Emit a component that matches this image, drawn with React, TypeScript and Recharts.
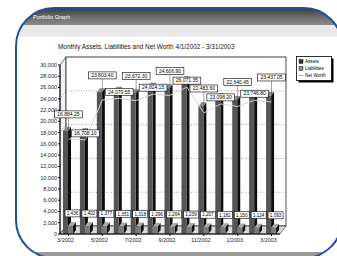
import React from "react";
import { ComposedChart, Bar, Line, XAxis, YAxis, CartesianGrid, LabelList, Legend } from "recharts";

// Monthly assets / liabilities / net worth, month-end values
const months = ["3/2002", "4/2002", "5/2002", "6/2002", "7/2002", "8/2002", "9/2002", "10/2002", "11/2002", "12/2002", "1/2003", "2/2003", "3/2003"];
const assets = [18320, 18110, 25180, 25430, 24990, 26120, 25870, 27310, 22690, 24280, 23790, 24870, 24530];
const liabilities = [1436, 1402, 1377, 1351, 1318, 1296, 1264, 1239, 1207, 1182, 1150, 1124, 1093];
const netWorth = [16884.25, 16708.1, 23803.4, 24079.55, 23672.3, 24824.15, 24606.9, 26071.35, 21483.6, 23098.2, 22640.45, 23746.8, 23437.05];
const yTicks = [0, 2000, 4000, 6000, 8000, 10000, 12000, 14000, 16000, 18000, 20000, 22000, 24000, 26000, 28000, 30000];
const gridValues = [0, 6000, 12000, 18000, 24000, 30000];
const Y_MAX = 30000;

const data = months.map((m, i) => ({ month: m, assets: assets[i], liabilities: liabilities[i], netWorth: netWorth[i] }));

const FONT = "Arial, 'Liberation Sans', sans-serif";
const DX = 6; // depth of back wall
const DY = 8;

const fmt = (v: number) => v.toLocaleString("en-US");
const fmt2 = (v: number) => v.toLocaleString("en-US", { minimumFractionDigits: 2, maximumFractionDigits: 2 });

// 3D column: front, side, top
const bar3d = (front: string, side: string, top: string) => (props: any) => {
  const { x, y, width, height } = props;
  if (height == null || isNaN(height)) return <g />;
  const d = 3;
  const e = 4;
  return (
    <g>
      <path d={`M${x + width},${y} l${d},${-e} v${height} l${-d},${e} z`} fill={side} />
      <path d={`M${x},${y} l${d},${-e} h${width} l${-d},${e} z`} fill={top} />
      <rect x={x} y={y} width={width} height={height} fill={front} />
    </g>
  );
};

const gridLine = (props: any) => {
  const { x1, y1, x2, y2 } = props;
  return (
    <polyline
      key={`h-${y1}`}
      points={`${x1},${y1} ${x1 + DX},${y1 - DY} ${x2 + DX},${y2 - DY}`}
      fill="none"
      stroke="#666"
      strokeWidth={0.6}
      strokeDasharray="1 1.5"
    />
  );
};

// linear value axis: back-wall gridlines every 6,000
const gridCoords = ({ offset }: any) => gridValues.map((v) => offset.top + offset.height * (1 - v / Y_MAX));

const topLabel = (props: any) => {
  const { x, y, value, index } = props;
  const t = fmt2(value);
  const w = t.length * 2.75 + 3;
  const by = y - (index % 2 === 0 ? 28 : 10);
  return (
    <g>
      <line x1={x} y1={y} x2={x} y2={by + 7} stroke="#444" strokeWidth={0.5} />
      <rect x={x - w / 2} y={by} width={w} height={7} fill="#fff" stroke="#000" strokeWidth={0.6} />
      <text x={x} y={by + 5.2} textAnchor="middle" fontSize={5} fontFamily={FONT} fill="#000">{t}</text>
    </g>
  );
};

const lowLabel = (props: any) => {
  const { x, y, width, value } = props;
  const t = fmt(value);
  const w = t.length * 2.6 + 2;
  const cx = x + width / 2 + 2;
  const by = y - 16;
  return (
    <g>
      <rect x={cx - w / 2} y={by} width={w} height={7} fill="#fff" stroke="#000" strokeWidth={0.6} />
      <text x={cx} y={by + 5.2} textAnchor="middle" fontSize={4.6} fontFamily={FONT} fill="#000">{t}</text>
    </g>
  );
};

const LegendBox = () => (
  <svg width={40} height={28} style={{ display: "block" }}>
    <rect x={2.5} y={2.5} width={35} height={24} fill="#000" />
    <rect x={0.5} y={0.5} width={35} height={24} fill="#fff" stroke="#000" strokeWidth={0.8} />
    <rect x={3} y={3.5} width={4} height={4} fill="#333" stroke="#000" strokeWidth={0.4} />
    <text x={9} y={7.2} fontSize={4.6} fontFamily={FONT} fill="#000">Assets</text>
    <rect x={3} y={10.5} width={4} height={4} fill="#888" stroke="#000" strokeWidth={0.4} />
    <text x={9} y={14.2} fontSize={4.6} fontFamily={FONT} fill="#000">Liabilities</text>
    <line x1={2.5} y1={19.5} x2={7.5} y2={19.5} stroke="#999" strokeWidth={0.8} />
    <text x={9} y={21.2} fontSize={4.6} fontFamily={FONT} fill="#000">Net Worth</text>
  </svg>
);

export default function App() {
  return (
    <div style={{ position: "absolute", left: 0, top: 0, width: 337, height: 256, background: "#fff", overflow: "hidden" }}>
      <svg width={337} height={256} style={{ position: "absolute", left: 0, top: 0 }}>
        <defs>
          <clipPath id="frame">
            <rect x={16} y={8} width={326} height={250} rx={38} ry={38} />
          </clipPath>
          <linearGradient id="bar" x1="0" y1="0" x2="0" y2="1">
            <stop offset="0%" stopColor="#3c3c3c" />
            <stop offset="50%" stopColor="#6a6a6a" />
            <stop offset="100%" stopColor="#8a8a8a" />
          </linearGradient>
        </defs>
        <g clipPath="url(#frame)">
          <rect x={0} y={8} width={337} height={17} fill="url(#bar)" />
          <rect x={0} y={25} width={337} height={12} fill="#e9e9e9" />
          <rect x={0} y={252} width={337} height={6} fill="#9a9a9a" />
          <text x={33} y={19} fontSize={5.5} fontFamily={FONT} fill="#fff">Portfolio Graph</text>
        </g>
        <rect x={16} y={8} width={326} height={250} rx={38} ry={38} fill="none" stroke="#1d4f9e" strokeWidth={2} />
        <text x={58} y={49} fontSize={6.4} fontFamily={FONT} fill="#111">Monthly Assets, Liabilities and Net Worth 4/1/2002 - 3/31/2003</text>
        {/* 3D walls */}
        <polygon points={`60,65 66,57 66,226 60,234`} fill="#f3f3f3" stroke="#000" strokeWidth={0.5} />
        <rect x={66} y={57} width={220} height={169} fill="#fff" stroke="#000" strokeWidth={0.7} />
        <polygon points={`60,234 66,226 286,226 280,234`} fill="#d8d8d8" stroke="#000" strokeWidth={0.5} />
      </svg>
      <div style={{ position: "absolute", left: 0, top: 0 }}>
        <ComposedChart width={337} height={256} data={data} margin={{ top: 65, right: 57, bottom: 12, left: 40 }} barGap={0} barSize={5}>
          <CartesianGrid vertical={false} horizontal={gridLine} horizontalCoordinatesGenerator={gridCoords} />
          <XAxis
            dataKey="month"
            interval={1}
            height={10}
            tick={{ fontSize: 5.5, fontFamily: FONT, fill: "#222", dx: -3 }}
            tickLine={{ stroke: "#000" }}
            tickSize={2}
            axisLine={{ stroke: "#000", strokeWidth: 1 }}
          />
          <YAxis
            width={20}
            domain={[0, Y_MAX]}
            ticks={yTicks}
            tickFormatter={fmt}
            tick={{ fontSize: 5.5, fontFamily: FONT, fill: "#222" }}
            tickSize={2}
            tickMargin={1}
            tickLine={{ stroke: "#000" }}
            axisLine={{ stroke: "#000", strokeWidth: 1 }}
          />
          <Bar dataKey="assets" name="Assets" isAnimationActive={false} shape={bar3d("#555", "#0d0d0d", "#8c8c8c")} />
          <Bar dataKey="liabilities" name="Liabilities" isAnimationActive={false} shape={bar3d("#7a7a7a", "#111", "#aaa")}>
            <LabelList dataKey="liabilities" content={lowLabel} />
          </Bar>
          <Line dataKey="netWorth" name="Net Worth" type="linear" stroke="#d6d6d6" strokeWidth={1} dot={false} isAnimationActive={false}>
            <LabelList dataKey="netWorth" content={topLabel} />
          </Line>
          <Legend layout="vertical" align="center" verticalAlign="middle" content={() => <LegendBox />} wrapperStyle={{ left: 296, top: 56, width: 40, height: 28 }} />
        </ComposedChart>
      </div>
    </div>
  );
}
